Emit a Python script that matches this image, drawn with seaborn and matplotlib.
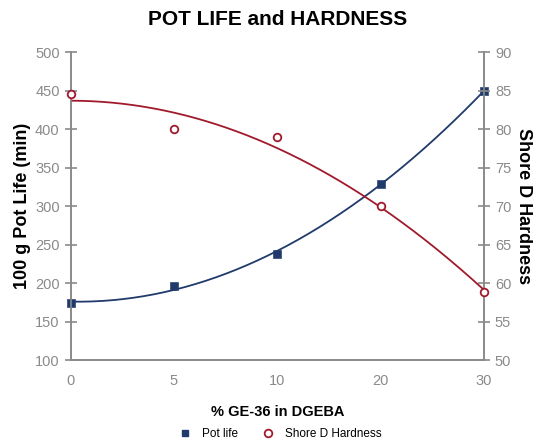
import numpy as np
import pandas as pd
import matplotlib
matplotlib.use("Agg")
import matplotlib.pyplot as plt
import seaborn as sns
from matplotlib.lines import Line2D

# data
ge36_pct = ["0", "5", "10", "20", "30"]
pot_life = [174, 196, 238, 328, 450]
shore_d = [84.5, 80, 79, 70, 58.8]

BLUE = "#1f3a6b"
RED = "#a01a2c"
GREY = "#8a8a8a"

sns.set_style("white")
plt.rcParams["font.family"] = ["Liberation Sans", "DejaVu Sans"]
plt.rcParams["text.color"] = "black"
plt.rcParams["axes.labelcolor"] = "black"

df = pd.DataFrame({"pos": np.arange(len(ge36_pct)), "pot": pot_life, "shore": shore_d})

# excel-style order 2 trendlines on category position
xs = np.linspace(0, len(ge36_pct) - 1, 200)
trend = pd.DataFrame({
    "x": xs,
    "pot": np.polyval(np.polyfit(df["pos"], df["pot"], 2), xs),
    "shore": np.polyval(np.polyfit(df["pos"], df["shore"], 2), xs),
})

fig = plt.figure(figsize=(5.4, 4.45), dpi=100)
ax = fig.add_axes([0.131, 0.191, 0.765, 0.692])
ax2 = ax.twinx()

sns.lineplot(data=trend, x="x", y="pot", ax=ax, color=BLUE, lw=1.3)
sns.scatterplot(data=df, x="pos", y="pot", ax=ax, marker="s", color=BLUE,
                s=30, edgecolor=BLUE, zorder=5, clip_on=False)
sns.lineplot(data=trend, x="x", y="shore", ax=ax2, color=RED, lw=1.3)
sns.scatterplot(data=df, x="pos", y="shore", ax=ax2, marker="o", facecolor="white",
                edgecolor=RED, linewidth=1.3, s=30, zorder=5, clip_on=False)

ax.set_xlim(0, 4)
ax.set_ylim(100, 500)
ax2.set_ylim(50, 90)
ax.set_xticks(df["pos"])
ax.set_xticklabels(ge36_pct)
ax.set_yticks(range(100, 501, 50))
ax2.set_yticks(range(50, 91, 5))

for a in (ax, ax2):
    for side in ("left", "right", "bottom", "top"):
        a.spines[side].set_visible(side != "top")
        a.spines[side].set_color(GREY)
        a.spines[side].set_linewidth(1.2)
    a.tick_params(direction="inout", length=8, width=1.2, color=GREY,
                  labelcolor=GREY, labelsize=10.5, pad=4)
ax.tick_params(axis="x", pad=6)

ax.set_xlabel("% GE-36 in DGEBA", fontsize=10.5, fontweight="bold", labelpad=12)
ax.set_ylabel("100 g Pot Life (min)", fontsize=13, fontweight="bold", labelpad=3)
ax2.set_ylabel("Shore D Hardness", fontsize=13, fontweight="bold", rotation=270,
               labelpad=3, va="bottom")
fig.suptitle("POT LIFE and HARDNESS", fontsize=15, fontweight="bold",
             x=0.514, y=0.978)

handles = [
    Line2D([], [], ls="none", marker="s", color=BLUE, markersize=5),
    Line2D([], [], ls="none", marker="o", markerfacecolor="white",
           markeredgecolor=RED, markeredgewidth=1.3, markersize=5.5),
]
fig.legend(handles, ["Pot life", "Shore D Hardness"], loc="lower center",
           bbox_to_anchor=(0.514, -0.012), ncol=2, frameon=False, fontsize=8.5,
           handletextpad=0.4, columnspacing=1.6)

fig.savefig("out.png", dpi=100)
